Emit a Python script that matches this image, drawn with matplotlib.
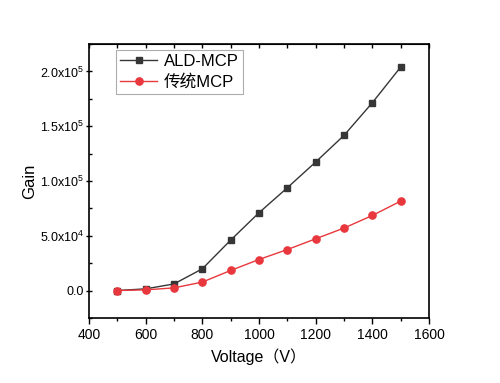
import numpy as np
import matplotlib
matplotlib.use('Agg')
import matplotlib.pyplot as plt
from matplotlib.ticker import MultipleLocator, FuncFormatter

plt.rcParams['font.family'] = ['Liberation Sans', 'Noto Sans CJK SC', 'DejaVu Sans']
plt.rcParams['mathtext.fontset'] = 'custom'
plt.rcParams['mathtext.rm'] = 'Liberation Sans'

# data
voltage = [500, 600, 700, 800, 900, 1000, 1100, 1200, 1300, 1400, 1500]
gain_ald = [0, 1500, 6000, 19800, 46000, 71000, 93800, 117300, 141600, 171400, 204000]
gain_old = [0, 600, 2400, 7700, 18300, 28300, 37400, 47200, 57000, 68500, 81600]

labels = ['ALD-MCP', '传统MCP']

fig = plt.figure(figsize=(5, 3.83), dpi=100)
ax = fig.add_axes([0.178, 0.17, 0.68, 0.715])

ax.plot(voltage, gain_ald, color='#363636', lw=1, marker='s', markersize=4.5,
        label=labels[0])
ax.plot(voltage, gain_old, color='#e8383d', lw=1, marker='o', markersize=5.2,
        label=labels[1])

ax.set_xlim(400, 1600)
ax.set_ylim(-25000, 225000)
ax.xaxis.set_major_locator(MultipleLocator(200))
ax.xaxis.set_minor_locator(MultipleLocator(100))
ax.yaxis.set_major_locator(MultipleLocator(50000))
ax.yaxis.set_minor_locator(MultipleLocator(25000))

def fmt(v, pos):
    if v == 0:
        return '0.0'
    e = int(np.floor(np.log10(abs(v))))
    m = v / 10 ** e
    return r'$%.1f\mathrm{x}10^{%d}$' % (m, e)

ax.yaxis.set_major_formatter(FuncFormatter(fmt))

ax.tick_params(axis='x', which='major', direction='out', length=4, width=1,
               labelsize=10, top=False)
ax.tick_params(axis='x', which='minor', direction='out', length=2.5, width=1, top=False)
ax.tick_params(axis='y', which='major', direction='inout', length=5, width=1,
               labelsize=9, pad=1)
ax.tick_params(axis='y', which='minor', direction='in', length=2.5, width=1)

# inward ticks on the top edge
sec = ax.secondary_xaxis('top')
sec.xaxis.set_major_locator(MultipleLocator(100))
sec.tick_params(direction='in', length=3, width=1, labeltop=False)

for s in ax.spines.values():
    s.set_linewidth(1.2)

ax.set_xlabel('Voltage（V）', fontsize=11.5, labelpad=4)
ax.set_ylabel('Gain', fontsize=12, labelpad=2)

leg = ax.legend(loc='upper left', bbox_to_anchor=(0.08, 0.978), fontsize=12,
                frameon=True, fancybox=False, edgecolor='#999999',
                handlelength=2.2, borderpad=0.25, labelspacing=0.3,
                handletextpad=0.4, borderaxespad=0)
leg.get_frame().set_linewidth(0.8)

fig.savefig('out.png', dpi=100)
